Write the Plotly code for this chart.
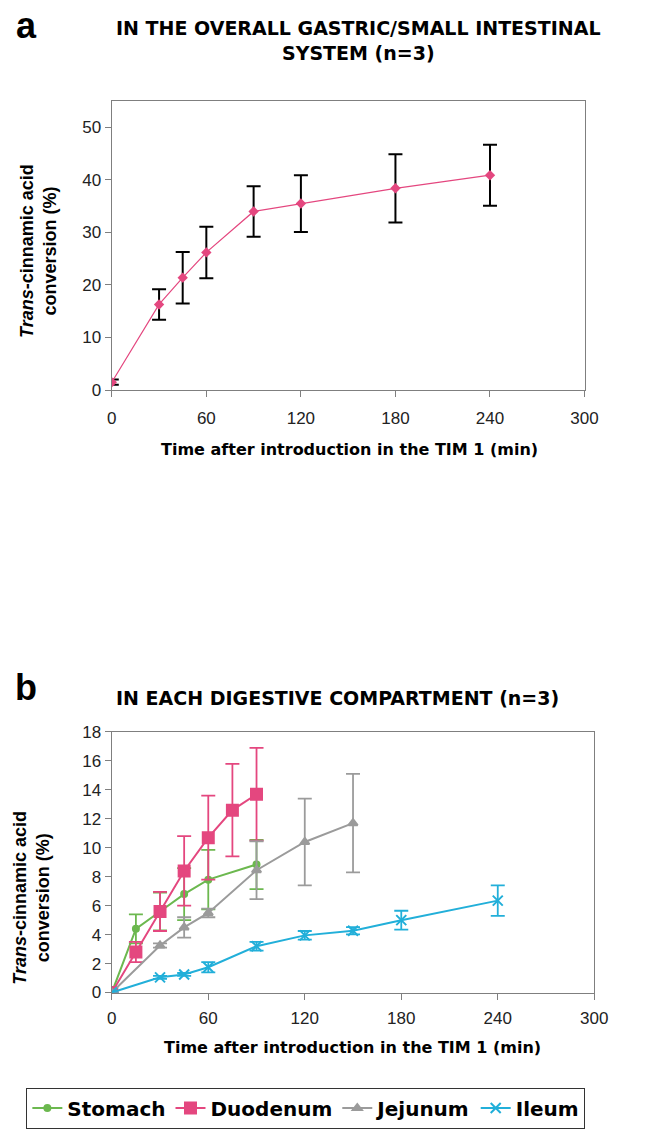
import plotly.graph_objects as go

W, H = 650, 1129

# Panel a data
t_a = [0, 30, 45, 60, 90, 120, 180, 240]
conv_a = [1.5, 16.3, 21.4, 26.2, 34.0, 35.5, 38.4, 40.9]
err_a = [0.5, 2.9, 4.9, 4.9, 4.8, 5.4, 6.5, 5.8]

# Panel b data
t_stomach = [0, 15, 30, 45, 60, 90]
stomach = [0.0, 4.4, 5.6, 6.8, 7.8, 8.85]
err_stomach = [0.0, 1.0, 1.3, 1.8, 2.05, 1.7]

t_duod = [0, 15, 30, 45, 60, 75, 90]
duodenum = [0.0, 2.8, 5.6, 8.4, 10.7, 12.6, 13.7]
err_duod = [0.0, 0.7, 1.35, 2.4, 2.9, 3.2, 3.2]

t_jej = [0, 30, 45, 60, 90, 120, 150]
jejunum = [0.0, 3.25, 4.5, 5.5, 8.45, 10.4, 11.7]
err_jej = [0.0, 0.15, 0.7, 0.3, 2.0, 3.0, 3.4]

t_ileum = [0, 30, 45, 60, 90, 120, 150, 180, 240]
ileum = [0.0, 1.05, 1.25, 1.75, 3.2, 3.95, 4.27, 5.0, 6.35]
err_ileum = [0.0, 0.1, 0.1, 0.35, 0.3, 0.3, 0.25, 0.65, 1.05]

x_ticks = [0, 60, 120, 180, 240, 300]
series_names = ["Stomach", "Duodenum", "Jejunum", "Ileum"]

PINK = "#e4477f"
GREEN = "#6cb84f"
GRAY = "#9b9b9b"
CYAN = "#22afd9"
AXC = "#7f7f7f"

def px(x):
    return x / W

def py(y):
    return 1 - y / H

fig = go.Figure()

fig.add_trace(go.Scatter(
    x=t_a, y=conv_a, mode="lines+markers", xaxis="x", yaxis="y",
    line=dict(color=PINK, width=1.2),
    marker=dict(symbol="diamond", size=8, color=PINK),
    error_y=dict(type="data", array=err_a, color="black", thickness=2, width=7),
    showlegend=False,
))

series = [
    (series_names[0], t_stomach, stomach, err_stomach, GREEN, "circle", 6),
    (series_names[1], t_duod, duodenum, err_duod, PINK, "square", 11),
    (series_names[2], t_jej, jejunum, err_jej, GRAY, "triangle-up", 8),
    (series_names[3], t_ileum, ileum, err_ileum, CYAN, "x-thin", 10),
]
for name, xs, ys, es, col, sym, sz in series:
    fig.add_trace(go.Scatter(
        x=xs, y=ys, mode="lines+markers", name="<b>" + name + "</b>", xaxis="x2", yaxis="y2",
        line=dict(color=col, width=2),
        marker=dict(symbol=sym, size=sz, color=col, line=dict(color=col, width=2)),
        error_y=dict(type="data", array=es, color=col, thickness=1.8, width=7),
    ))

tickfont = dict(family="Liberation Sans, Arial", size=17, color="#222")
axis_common = dict(
    showgrid=False, zeroline=False, showline=True, linecolor=AXC, linewidth=1.2,
    mirror=True, ticks="outside", ticklen=6, tickcolor=AXC, tickwidth=1.2,
    tickfont=tickfont,
)

fig.update_layout(
    width=W, height=H,
    margin=dict(l=0, r=0, t=0, b=0),
    paper_bgcolor="white", plot_bgcolor="white",
    xaxis=dict(domain=[px(110), px(597)], range=[0, 300], tickvals=x_ticks,
               anchor="y", ticklabelstandoff=6, **axis_common),
    yaxis=dict(domain=[py(389), py(94)], range=[0, 55], tickvals=[0, 10, 20, 30, 40, 50],
               anchor="x", **axis_common),
    xaxis2=dict(domain=[px(110), px(607)], range=[0, 300], tickvals=x_ticks,
                anchor="y2", ticklabelstandoff=4, **axis_common),
    yaxis2=dict(domain=[py(1004), py(738)], range=[0, 18], dtick=2,
                anchor="x2", **axis_common),
    legend=dict(
        orientation="h", x=px(22), y=py(1101), xanchor="left", yanchor="top",
        bordercolor="#333", borderwidth=1, bgcolor="white",
        font=dict(family="DejaVu Sans", size=20, color="black"),
        tracegroupgap=0,
    ),
)

title_font = dict(family="DejaVu Sans", size=19, color="black")
lab_font = dict(family="Liberation Sans, Arial", size=36, color="black")
axt_font = dict(family="DejaVu Sans", size=16, color="black")
yt_font = dict(family="Liberation Sans, Arial", size=18, color="black")

ann = [
    dict(x=px(22), y=py(17), text="<b>a</b>", font=lab_font),
    dict(x=px(364), y=py(32), text="<b>IN THE OVERALL GASTRIC/SMALL INTESTINAL<br>SYSTEM (n=3)</b>", font=title_font),
    dict(x=px(355), y=py(450), text="<b>Time after introduction in the TIM 1 (min)</b>", font=axt_font),
    dict(x=px(35), y=py(247), text="<b><i>Trans</i>-cinnamic acid<br>conversion (%)</b>", font=yt_font, textangle=-90),
    dict(x=px(22), y=py(693), text="<b>b</b>", font=lab_font),
    dict(x=px(342), y=py(703), text="<b>IN EACH DIGESTIVE COMPARTMENT (n=3)</b>", font=title_font),
    dict(x=px(358), y=py(1060), text="<b>Time after introduction in the TIM 1 (min)</b>", font=axt_font),
    dict(x=px(27), y=py(907), text="<b><i>Trans</i>-cinnamic acid<br>conversion (%)</b>", font=yt_font, textangle=-90),
]
for a in ann:
    a.update(xref="paper", yref="paper", showarrow=False, xanchor="center", yanchor="middle")
fig.update_layout(annotations=ann)

fig.write_html("out.html")
